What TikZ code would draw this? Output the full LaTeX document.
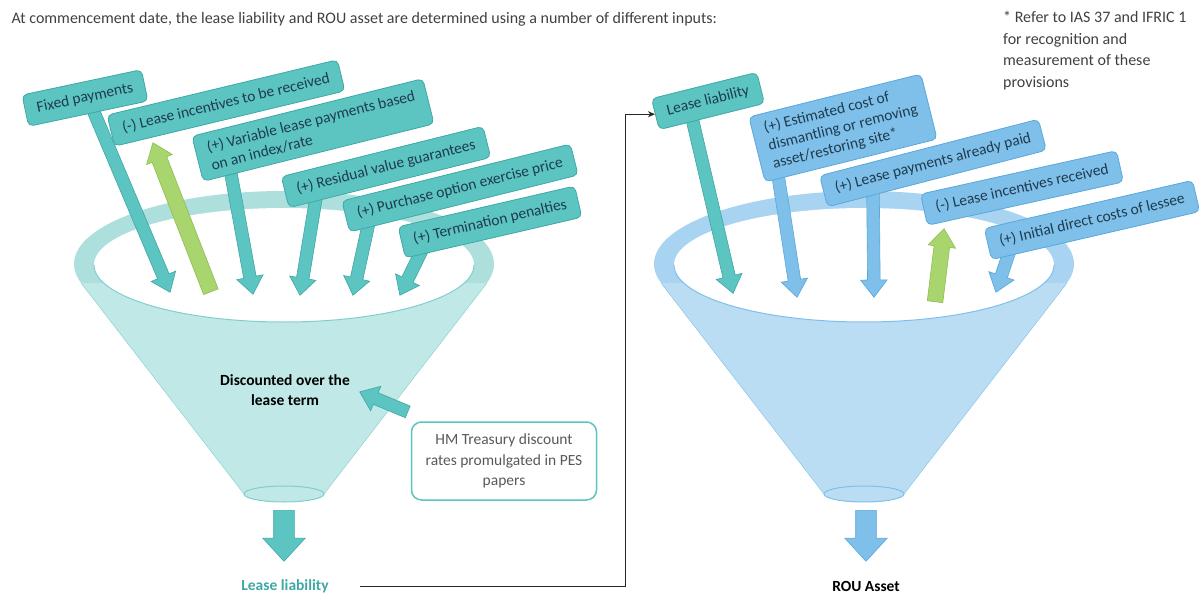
\documentclass[tikz,border=0pt]{standalone}
\usepackage{fontspec}
\setmainfont{Carlito}
\usetikzlibrary{shapes.arrows,calc,arrows.meta}

\definecolor{tealbox}{HTML}{5CC5C2}
\definecolor{tealline}{HTML}{3EA8A5}
\definecolor{tcone}{HTML}{BFE8E7}
\definecolor{trim}{HTML}{ADDFDD}
\definecolor{tedge}{HTML}{80CFCC}
\definecolor{bluebox}{HTML}{7FC0EA}
\definecolor{blueline}{HTML}{5AA7DB}
\definecolor{bcone}{HTML}{BADDF4}
\definecolor{brim}{HTML}{A8D4F1}
\definecolor{bedge}{HTML}{80BFE9}
\definecolor{limefill}{HTML}{A9D56E}
\definecolor{limeline}{HTML}{8DBE4E}
\definecolor{boxtext}{HTML}{1F3B4D}
\definecolor{greytext}{HTML}{404040}
\definecolor{hmtext}{HTML}{595959}

\tikzset{
  input/.style={rounded corners=5pt, minimum height=32pt, inner xsep=12pt, inner ysep=8pt,
    align=left, text=boxtext, line width=0.8pt, font=\fontsize{15.5}{18.5}\selectfont},
  tealinput/.style={input, fill=tealbox, draw=tealline},
  blueinput/.style={input, fill=bluebox, draw=blueline},
  blockarr/.style={single arrow, inner xsep=0pt, inner ysep=6pt,
    single arrow head extend=7pt, single arrow tip angle=75, line width=0.6pt},
  tealarr/.style={blockarr, fill=tealbox, draw=tealline},
  bluearr/.style={blockarr, fill=bluebox, draw=blueline},
  limearr/.style={blockarr, inner ysep=7.5pt, single arrow head extend=6pt,
    fill=limefill, draw=limeline},
  outarr/.style={inner ysep=10pt, single arrow head extend=11pt, single arrow tip angle=85}
}

% block arrow from one named point to another
\newcommand\blockarrow[4]{%
  \path let \p1=(#2), \p2=(#3), \n1={atan2(\y2-\y1,\x2-\x1)}, \n2={veclen(\x2-\x1,\y2-\y1)}
    in node[#1, anchor=tail, rotate=\n1, minimum height=\n2] (#4) at (\p1) {};}

\begin{document}
\begin{tikzpicture}[x=1pt,y=-1pt]
\useasboundingbox (0,0) rectangle (1203,594);

% the two funnels
\foreach \cx/\cone/\rim/\edge in {284/tcone/trim/tedge, 864/bcone/brim/bedge}{
  \begin{scope}[shift={(\cx,0)}]
    \fill[\rim] (0,264) ellipse [x radius=210, y radius=73];
    \fill[\cone] (-203,283) -- (-40,494) -- (40,494) -- (203,283) -- cycle;
    \fill[white] (0,265) ellipse [x radius=190, y radius=57];
    \draw[\edge, line width=1pt] (190,265) arc [start angle=0, end angle=180, x radius=190, y radius=57];
    \draw[\edge] (-203,283) -- (-40,494);
    \draw[\edge] (203,283) -- (40,494);
    \draw[\edge, fill=\cone, line width=1pt] (0,494) ellipse [x radius=40, y radius=8];
  \end{scope}
}

\node[font=\bfseries\fontsize{15.5}{20}\selectfont, align=center] (disc) at (285,390) {Discounted over the\\lease term};

% arrows into the funnels
\coordinate (fixA) at (93,110);   \coordinate (fixB) at (170,292);
\coordinate (limeA) at (211,292); \coordinate (limeB) at (153,143);
\coordinate (varA) at (231,174);  \coordinate (varB) at (253,294);
\coordinate (resA) at (316,198);  \coordinate (resB) at (300,295);
\coordinate (purA) at (369,222);  \coordinate (purB) at (353,295);
\coordinate (terA) at (422,250);  \coordinate (terB) at (400,295);
\coordinate (llA) at (692,118);   \coordinate (llB) at (733,293);
\coordinate (disA) at (778,175);  \coordinate (disB) at (797,297);
\coordinate (paiA) at (873,192);  \coordinate (paiB) at (874,297);
\coordinate (limA) at (935,302);  \coordinate (limB) at (944,229);
\coordinate (iniA) at (1010,250); \coordinate (iniB) at (996,292);

\blockarrow{tealarr}{fixA}{fixB}{fixarr}
\blockarrow{limearr}{limeA}{limeB}{limearr1}
\blockarrow{tealarr}{varA}{varB}{vararr}
\blockarrow{tealarr}{resA}{resB}{resarr}
\blockarrow{tealarr}{purA}{purB}{purarr}
\blockarrow{tealarr}{terA}{terB}{terarr}
\blockarrow{tealarr}{llA}{llB}{llarr}
\blockarrow{bluearr}{disA}{disB}{disarr}
\blockarrow{bluearr}{paiA}{paiB}{paiarr}
\blockarrow{limearr}{limA}{limB}{limearr2}
\blockarrow{bluearr}{iniA}{iniB}{iniarr}

% inputs, left funnel
\node[tealinput, rotate=12] (fixpay) at (85,98) {Fixed payments};
\node[tealinput, rotate=13.5] (incent) at (226,103) {(-) Lease incentives to be received};
\node[tealinput, rotate=14] (varpay) at (313,130) {(+) Variable lease payments based\\on an index/rate};
\node[tealinput, rotate=14] (resval) at (386,167) {(+) Residual value guarantees};
\node[tealinput, rotate=14] (purch) at (460,188) {(+) Purchase option exercise price};
\node[tealinput, rotate=13] (termp) at (490,222) {(+) Termination penalties};

% inputs, right funnel
\node[tealinput, rotate=14] (llbox) at (708,101) {Lease liability};
\node[blueinput, rotate=14] (dism) at (843,128) {(+) Estimated cost of\\dismantling or removing\\asset/restoring site*};
\node[blueinput, rotate=14.5] (paid) at (933,163) {(+) Lease payments already paid};
\node[blueinput, rotate=12.5] (incrcv) at (1022,188) {(-) Lease incentives received};
\node[blueinput, rotate=13] (initdc) at (1092,220) {(+) Initial direct costs of lessee};

% discount rates
\node[draw=tealbox, line width=1.5pt, rounded corners=10pt, fill=white, minimum width=185pt,
  minimum height=78pt, align=center, text=hmtext, font=\fontsize{15.5}{20.5}\selectfont]
  (hmrate) at (504,461) {HM Treasury discount\\rates promulgated in PES\\papers};
\coordinate (hmA) at (408,412); \coordinate (hmB) at (360,392);
\blockarrow{tealarr}{hmA}{hmB}{hmarr}

% outputs
\coordinate (lfo) at (284,510); \coordinate (lfoT) at (284,561);
\coordinate (rfo) at (866,510); \coordinate (rfoT) at (866,561);
\blockarrow{tealarr, outarr}{lfo}{lfoT}{lfout}
\blockarrow{bluearr, outarr}{rfo}{rfoT}{rfout}
\node[font=\bfseries\fontsize{15.5}{18}\selectfont, text=tealline] (llout) at (285,586) {Lease liability};
\node[font=\bfseries\fontsize{15.5}{18}\selectfont] (rou) at (866,586) {ROU Asset};

\coordinate (turn) at (625,586);
\draw[-{Stealth[length=7pt,width=6pt]}, line width=1pt, black!85] ([xshift=28pt]llout.east) -- (turn) |- (llbox.west);

% texts at the top
\node[anchor=base west, text=greytext, font=\fontsize{16}{19}\selectfont] (intro) at (8,24)
  {At commencement date, the lease liability and ROU asset are determined using a number of different inputs:};
\node[anchor=north west, inner sep=0pt, align=left, text=greytext, font=\fontsize{16}{21.7}\selectfont]
  (note) at (1003,11) {* Refer to IAS 37 and IFRIC 1\\for recognition and\\measurement of these\\provisions};

\end{tikzpicture}
\end{document}
